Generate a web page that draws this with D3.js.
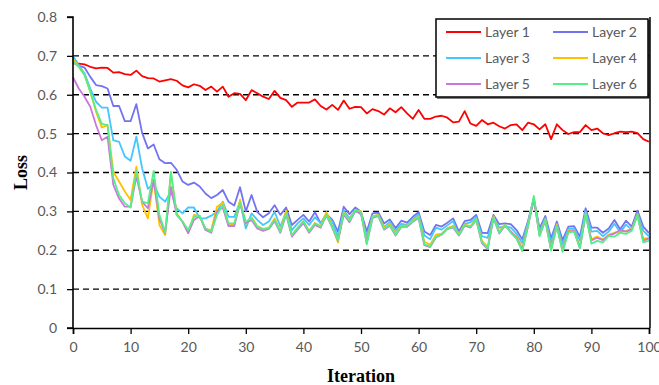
<!DOCTYPE html>
<html><head><meta charset="utf-8">
<script src="https://cdn.jsdelivr.net/npm/d3@7/dist/d3.min.js"></script>
<style>
html,body{margin:0;padding:0;background:#fff;}
svg{display:block;}
.tick text{font-family:Lato,"Noto Sans",sans-serif;font-size:14px;fill:#595959;}
</style></head>
<body><svg id="c" width="659" height="385"></svg>
<script>
const seriesNames = ["Layer 1","Layer 2","Layer 3","Layer 4","Layer 5","Layer 6"];
const seriesColors = ["#FF0000","#7272F2","#44C6FF","#FFC000","#CC77DD","#55EE88"];
const xTickValues = [0,10,20,30,40,50,60,70,80,90,100];
const yTickValues = [0,0.1,0.2,0.3,0.4,0.5,0.6,0.7,0.8];

const layer1 = [0.681,0.680,0.678,0.672,0.668,0.670,0.669,0.657,0.658,0.653,0.651,0.662,0.648,0.643,0.642,0.634,0.637,0.640,0.636,0.624,0.619,0.627,0.623,0.612,0.621,0.608,0.621,0.595,0.604,0.602,0.586,0.612,0.604,0.595,0.589,0.610,0.592,0.586,0.569,0.580,0.580,0.580,0.588,0.571,0.562,0.574,0.561,0.585,0.564,0.569,0.568,0.552,0.563,0.558,0.549,0.565,0.555,0.568,0.552,0.538,0.561,0.538,0.538,0.544,0.546,0.541,0.529,0.531,0.558,0.526,0.520,0.535,0.524,0.528,0.519,0.513,0.522,0.524,0.509,0.528,0.524,0.511,0.524,0.486,0.524,0.509,0.499,0.504,0.504,0.522,0.509,0.513,0.501,0.496,0.501,0.505,0.504,0.505,0.501,0.486,0.479];
const layer2 = [0.698,0.675,0.670,0.646,0.625,0.622,0.616,0.571,0.571,0.532,0.532,0.576,0.502,0.462,0.472,0.434,0.424,0.425,0.407,0.377,0.368,0.374,0.364,0.346,0.334,0.342,0.355,0.325,0.315,0.362,0.300,0.342,0.298,0.285,0.295,0.316,0.291,0.310,0.265,0.278,0.291,0.274,0.298,0.269,0.293,0.279,0.248,0.312,0.293,0.310,0.299,0.248,0.295,0.297,0.269,0.279,0.257,0.276,0.271,0.286,0.298,0.248,0.239,0.265,0.261,0.271,0.282,0.248,0.275,0.278,0.291,0.245,0.244,0.291,0.267,0.269,0.267,0.252,0.228,0.275,0.333,0.256,0.288,0.231,0.274,0.226,0.261,0.262,0.235,0.308,0.258,0.258,0.245,0.256,0.278,0.254,0.276,0.261,0.302,0.261,0.244];
const layer3 = [0.700,0.675,0.655,0.616,0.582,0.567,0.567,0.483,0.479,0.441,0.430,0.492,0.411,0.358,0.372,0.338,0.325,0.351,0.308,0.295,0.310,0.310,0.282,0.282,0.289,0.299,0.325,0.286,0.286,0.325,0.256,0.295,0.278,0.265,0.274,0.299,0.261,0.299,0.252,0.269,0.282,0.265,0.285,0.269,0.293,0.274,0.235,0.303,0.282,0.303,0.292,0.235,0.288,0.290,0.260,0.272,0.250,0.268,0.265,0.280,0.292,0.238,0.228,0.258,0.253,0.264,0.275,0.240,0.268,0.272,0.285,0.236,0.232,0.284,0.258,0.262,0.258,0.243,0.218,0.272,0.333,0.248,0.282,0.220,0.268,0.215,0.255,0.256,0.225,0.300,0.248,0.250,0.236,0.248,0.268,0.246,0.266,0.253,0.295,0.250,0.236];
const layer4 = [0.692,0.672,0.651,0.608,0.556,0.516,0.522,0.402,0.377,0.351,0.329,0.415,0.317,0.282,0.381,0.265,0.239,0.398,0.295,0.274,0.244,0.291,0.288,0.255,0.252,0.312,0.322,0.265,0.265,0.330,0.268,0.285,0.262,0.255,0.258,0.282,0.250,0.302,0.237,0.258,0.275,0.250,0.270,0.262,0.298,0.262,0.220,0.297,0.278,0.303,0.300,0.222,0.287,0.291,0.258,0.268,0.243,0.263,0.264,0.277,0.287,0.222,0.214,0.240,0.243,0.257,0.263,0.242,0.266,0.262,0.281,0.224,0.208,0.287,0.248,0.266,0.248,0.236,0.205,0.265,0.335,0.240,0.280,0.203,0.265,0.200,0.250,0.252,0.208,0.295,0.228,0.235,0.228,0.240,0.245,0.248,0.250,0.255,0.292,0.230,0.232];
const layer5 = [0.645,0.616,0.595,0.569,0.522,0.483,0.492,0.368,0.333,0.312,0.312,0.390,0.325,0.308,0.381,0.282,0.244,0.363,0.291,0.274,0.244,0.278,0.288,0.252,0.245,0.300,0.310,0.262,0.262,0.320,0.270,0.278,0.256,0.250,0.255,0.275,0.245,0.292,0.235,0.253,0.270,0.245,0.265,0.258,0.290,0.258,0.225,0.292,0.272,0.300,0.296,0.218,0.283,0.288,0.253,0.263,0.238,0.260,0.260,0.273,0.283,0.213,0.208,0.233,0.240,0.255,0.258,0.238,0.263,0.258,0.278,0.218,0.203,0.283,0.243,0.263,0.248,0.232,0.200,0.262,0.330,0.238,0.276,0.202,0.262,0.198,0.248,0.250,0.206,0.292,0.225,0.232,0.226,0.238,0.243,0.252,0.248,0.253,0.290,0.225,0.230];
const layer6 = [0.685,0.672,0.651,0.608,0.561,0.525,0.522,0.385,0.342,0.321,0.310,0.404,0.325,0.321,0.404,0.291,0.246,0.402,0.291,0.274,0.252,0.286,0.288,0.256,0.248,0.291,0.316,0.269,0.269,0.322,0.274,0.282,0.261,0.254,0.257,0.278,0.248,0.295,0.239,0.257,0.274,0.248,0.269,0.261,0.291,0.261,0.226,0.295,0.276,0.303,0.299,0.215,0.285,0.290,0.255,0.265,0.240,0.262,0.262,0.275,0.285,0.215,0.210,0.235,0.240,0.255,0.260,0.240,0.265,0.260,0.280,0.220,0.205,0.285,0.245,0.265,0.245,0.230,0.198,0.262,0.340,0.236,0.278,0.199,0.262,0.196,0.246,0.248,0.205,0.295,0.217,0.224,0.220,0.237,0.235,0.245,0.242,0.250,0.290,0.220,0.224];

const allSeries = [layer1,layer2,layer3,layer4,layer5,layer6];

const svg = d3.select("#c");
const L = 73, R = 649, T = 17, B = 328;
const x = d3.scaleLinear().domain([0,100]).range([L,R]);
const y = d3.scaleLinear().domain([0,0.8]).range([B,T]);

// gridlines
svg.append("g").selectAll("line").data(yTickValues.filter(v => v > 0 && v < 0.8)).join("line")
  .attr("x1", L).attr("x2", R).attr("y1", d => y(d)).attr("y2", d => y(d))
  .attr("stroke", "#000").attr("stroke-width", 1.3).attr("stroke-dasharray", "6,4");

// right border
svg.append("line").attr("x1", R+1).attr("x2", R+1).attr("y1", T).attr("y2", B)
  .attr("stroke", "#000").attr("stroke-width", 1.5);

// lines
const line = d3.line().x((d,i) => x(i)).y(d => y(d));
svg.append("g").selectAll("path").data(allSeries).join("path")
  .attr("d", d => line(d)).attr("fill", "none")
  .attr("stroke", (d,i) => seriesColors[i]).attr("stroke-width", 1.8)
  .attr("stroke-linejoin", "round");

// axes
const yAxis = svg.append("g").attr("transform", `translate(${L},0)`)
  .call(d3.axisLeft(y).tickValues(yTickValues).tickFormat(d => d === 0 ? "0" : d3.format(".1f")(d)).tickSize(6).tickPadding(10));
const xAxis = svg.append("g").attr("transform", `translate(0,${B})`)
  .call(d3.axisBottom(x).tickValues(xTickValues).tickFormat(d3.format("d")).tickSize(6).tickPadding(8));
[yAxis, xAxis].forEach(a => {
  a.select(".domain").attr("stroke", "#000").attr("stroke-width", 1.6);
  a.selectAll(".tick line").attr("stroke", "#000").attr("stroke-width", 1.3);
});
yAxis.select(".domain").attr("d", `M-6,${B}H0V${T}H-6`);

// axis titles
svg.append("text").attr("transform", `translate(27,${(T+B)/2}) rotate(-90)`)
  .attr("text-anchor", "middle").attr("font-family", "'Liberation Serif', 'Times New Roman', serif")
  .attr("font-weight", "bold").attr("font-size", 18).attr("fill", "#000").text("Loss");
svg.append("text").attr("x", 361).attr("y", 382)
  .attr("text-anchor", "middle").attr("font-family", "'Liberation Serif', 'Times New Roman', serif")
  .attr("font-weight", "bold").attr("font-size", 18).attr("fill", "#000").text("Iteration");

// legend
const lg = svg.append("g");
lg.append("rect").attr("x", 436).attr("y", 19).attr("width", 212).attr("height", 78)
  .attr("fill", "#fff").attr("stroke", "#000").attr("stroke-width", 1.5);
lg.append("line").attr("x1", 437).attr("x2", 649).attr("y1", 98).attr("y2", 98).attr("stroke", "#000").attr("stroke-width", 1.2);
lg.append("line").attr("x1", 649).attr("x2", 649).attr("y1", 20).attr("y2", 98).attr("stroke", "#000").attr("stroke-width", 1.2);
seriesNames.forEach((name, i) => {
  const col = i % 2, row = Math.floor(i / 2);
  const lx = col === 0 ? 446 : 553;
  const ly = 32 + row * 26;
  lg.append("line").attr("x1", lx).attr("x2", lx + 35).attr("y1", ly).attr("y2", ly)
    .attr("stroke", seriesColors[i]).attr("stroke-width", 1.8);
  lg.append("text").attr("x", lx + 39).attr("y", ly + 5)
    .attr("font-family", "Lato, 'Noto Sans', sans-serif").attr("font-size", 14).attr("fill", "#595959").text(name);
});
</script></body></html>
